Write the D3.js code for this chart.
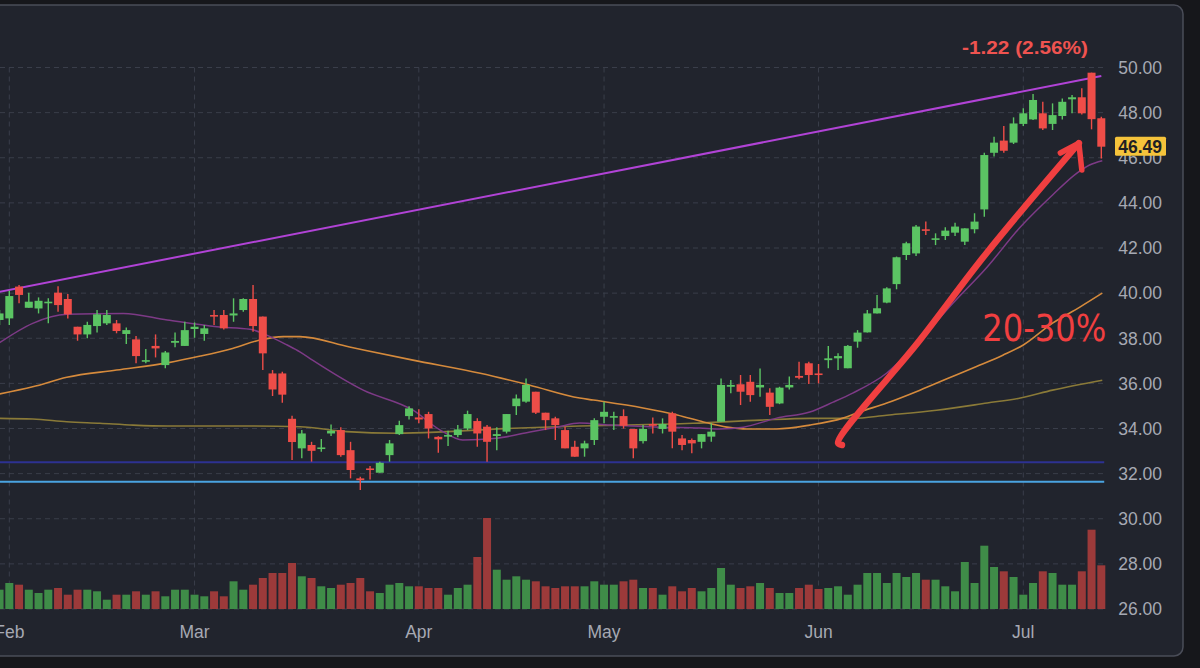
<!DOCTYPE html>
<html><head><meta charset="utf-8">
<script src="https://cdn.jsdelivr.net/npm/d3@7"></script>
<style>html,body{margin:0;padding:0;background:#16171b;}svg{display:block}</style>
</head><body>
<svg id="c" width="1200" height="668"></svg>
<script>
// ---- data (index 0 = last days of Jan, index 113 = Jul 14) ----
const opens  = [38.81,38.88,40.29,39.35,39.32,39.55,40.02,39.74,38.51,38.17,38.54,38.66,38.66,38.19,37.95,36.96,37.66,36.81,37.80,37.66,
  38.41,38.19,39.03,39.03,39.01,39.25,39.74,38.96,36.44,36.44,34.43,33.12,33.27,33.12,33.78,33.93,33.04,31.79,32.23,32.04,
  32.82,33.75,34.55,34.49,34.64,33.63,33.64,33.71,34.00,34.33,34.08,33.67,33.86,34.99,35.19,35.63,34.70,34.45,33.93,33.19,
  33.12,33.49,34.52,34.49,34.55,33.98,33.44,34.20,33.98,34.67,33.56,33.49,33.41,33.64,34.30,35.85,35.96,36.07,35.82,35.59,
  35.11,35.82,36.33,36.89,36.44,37.03,37.11,36.67,37.85,38.26,39.10,39.58,40.40,41.69,41.76,42.83,42.38,42.53,42.68,42.28,
  42.83,43.71,46.22,46.76,46.67,47.50,47.70,47.97,47.50,47.85,48.59,48.68,49.77,47.75];
const highs  = [39.25,40.11,40.36,40.02,39.81,39.77,40.31,39.96,38.51,38.73,39.25,39.25,38.81,38.48,38.10,37.52,38.17,37.43,38.25,38.73,
  38.70,38.59,39.25,39.25,39.77,39.77,40.36,38.96,36.59,36.52,34.57,33.93,33.41,33.53,34.18,34.05,33.41,31.86,32.34,32.53,
  33.49,34.34,34.99,34.85,34.74,33.66,33.90,34.15,34.79,34.45,34.15,34.05,34.64,35.51,36.22,35.63,34.70,34.52,34.08,33.46,
  33.46,34.45,35.19,34.74,34.85,33.98,34.15,34.49,34.45,34.74,33.71,33.56,33.75,34.23,36.22,36.15,36.37,36.37,36.66,35.78,
  35.85,36.30,36.96,36.96,36.86,37.66,37.33,37.70,38.36,39.25,39.92,40.26,41.62,42.28,43.02,43.17,42.65,42.92,43.12,42.87,
  43.54,46.22,46.93,47.41,47.79,48.19,48.82,48.48,48.41,48.63,48.78,49.08,49.77,47.82];
const lows   = [38.59,38.59,39.55,39.35,39.10,38.66,39.18,38.88,37.89,38.00,38.25,38.59,38.22,37.74,36.89,36.89,37.15,36.67,37.60,37.66,
  38.02,37.89,38.59,38.39,38.73,39.18,38.29,36.59,35.44,35.14,32.60,32.68,32.53,32.97,33.67,32.75,31.79,31.27,31.74,32.04,
  32.53,33.71,34.40,34.23,33.56,32.93,33.22,33.61,33.93,33.19,32.53,33.04,33.78,34.60,35.14,34.64,33.93,33.49,33.12,32.75,
  32.75,33.27,34.23,33.93,34.00,32.68,33.34,33.78,33.78,33.12,33.04,32.90,33.12,33.41,34.30,35.56,35.04,35.19,35.41,34.60,
  35.08,35.73,36.18,35.97,36.00,36.67,36.59,36.67,37.58,38.26,39.10,39.55,40.17,41.47,41.64,42.58,42.13,42.35,42.53,42.13,
  42.65,43.39,46.05,46.22,46.61,47.41,47.67,47.23,47.23,47.70,47.97,47.92,47.26,45.97];
const closes = [39.10,39.87,39.92,39.62,39.66,39.62,39.47,39.06,38.17,38.59,39.06,39.03,38.32,38.36,37.21,37.03,37.55,37.37,37.88,38.36,
  38.51,38.44,38.96,38.44,39.10,39.74,38.54,37.33,35.73,35.50,33.40,33.78,33.01,33.16,33.90,32.82,32.16,31.71,32.16,32.48,
  33.34,34.15,34.89,34.40,34.00,33.52,33.71,33.96,34.64,33.78,33.41,33.75,34.64,35.33,35.93,34.70,34.37,34.15,33.12,32.75,
  33.34,34.37,34.74,34.55,34.12,33.12,33.98,34.12,34.20,33.86,33.27,33.34,33.75,33.86,35.93,35.93,35.63,35.48,35.93,34.96,
  35.81,35.93,36.25,36.37,36.37,37.11,37.21,37.66,38.25,39.10,39.33,40.21,41.59,42.21,42.95,42.77,42.43,42.77,42.95,42.87,
  43.17,46.12,46.67,46.31,47.52,47.97,48.56,47.30,47.89,48.48,48.68,47.97,47.71,46.49];
// volume in millions (approx.)
const volumes = [1.93,2.60,2.43,1.93,1.60,1.93,2.10,1.43,1.93,1.93,1.77,0.93,1.43,1.43,1.77,1.43,1.77,1.27,1.93,1.93,
  1.43,1.27,1.77,1.27,2.77,1.93,2.43,3.10,3.60,3.60,4.60,3.27,3.10,2.27,2.10,2.43,2.60,3.10,1.77,1.60,
  2.43,2.60,2.27,2.27,2.10,2.10,1.43,2.10,2.43,5.20,9.10,3.93,2.93,3.27,2.93,2.77,2.27,2.10,2.27,2.27,
  2.27,2.77,2.43,2.43,2.77,2.93,2.10,2.10,1.43,2.27,1.77,2.10,1.77,2.10,4.10,2.43,2.10,2.27,2.60,2.10,
  1.60,1.60,2.10,2.43,2.00,2.10,2.27,1.43,2.43,3.60,3.60,2.60,3.60,3.20,3.60,2.93,2.93,2.27,1.77,4.70,
  2.60,6.33,4.20,3.77,3.20,1.43,2.60,3.77,3.60,2.43,2.43,3.77,7.93,4.37];
const monthLabels = ["Feb","Mar","Apr","May","Jun","Jul"];
const monthIndex  = [1,20,43,62,84,105];
const priceTicks  = [26,28,30,32,34,36,38,40,42,44,46,48,50];
// moving averages: [index, value]
const maShort = [[0,37.80],[3.4,38.66],[6.9,39.06],[12.7,39.10],[17.2,38.81],[22.3,38.51],[25.7,38.40],[27.4,38.14],[29.5,37.70],
  [30.8,37.40],[32.1,37.03],[37.3,35.70],[42.4,34.81],[45.2,33.93],[47.5,33.49],[51,33.57],[54.4,33.84],[57.2,34.06],[59.5,34.24],
  [62.6,34.15],[67.7,34.06],[71.8,34.02],[73.9,33.98],[76.3,34.06],[79.7,34.46],[83.1,34.73],[85.5,35.17],[87.5,35.57],[91,36.46],
  [94.4,37.92],[97.8,39.56],[101.3,41.16],[104.7,42.93],[108,44.35],[110.5,45.32],[111.8,45.68],[113.1,45.87]];
const maMid = [[0,35.53],[3.4,35.85],[6.9,36.27],[12,36.59],[17.2,36.91],[20.6,37.21],[23.9,37.55],[26.7,37.92],[29.1,38.07],
  [30.8,38.07],[35.9,37.61],[42.4,37.03],[49.3,36.45],[54.4,35.92],[59.5,35.35],[60.9,35.26],[66,34.91],[69.5,34.60],[72.2,34.29],
  [74.6,34.06],[76.7,33.98],[79.7,33.98],[83.1,34.15],[86.5,34.46],[88.2,34.73],[91,35.13],[94.4,35.70],[97.8,36.32],[100.2,36.75],
  [102.9,37.25],[105,37.70],[108,38.67],[110.8,39.38],[113.1,40.00]];
const maLong = [[0,34.45],[3.4,34.42],[6.9,34.30],[10.3,34.23],[13.7,34.15],[17.2,34.11],[25.7,34.11],[30.8,34.08],[35.6,33.86],
  [40.8,33.79],[45.9,33.86],[52.7,34.01],[59.5,34.11],[64.4,34.15],[71.1,34.23],[78,34.37],[83.1,34.45],[87.5,34.45],[91,34.59],
  [96.1,34.81],[101.3,35.13],[104.7,35.35],[108,35.70],[113.1,36.14]];
const trendLine = [[0,40.06],[113,49.62]];
const levelLines = [32.50, 31.64];
const arrowShaft = [[86.4,33.27],[86.0,33.36],[94.4,37.92],[101.2,41.76],[110.7,46.65]];
const arrowHead  = [[108.8,46.21],[110.7,46.65],[111.0,45.46]];
const lastPrice = 46.49;
const changeText = "-1.22 (2.56%)";
const noteText = "20-30%";

// ---- layout ----
const svg = d3.select("#c");
const W = 1200, H = 668;
const plotRight = 1104;
const x = d3.scaleLinear().domain([0, 113]).range([-0.45, 1101.3]);
const y = d3.scaleLinear().domain([26, 50]).range([609, 67.5]);
const yv = d3.scaleLinear().domain([0, 10]).range([609, 509]);
const GREEN = "#5bc463", RED = "#ee4d48";
const VGREEN = "#3f8c48", VRED = "#9c3a3a";
const FONT = "'Liberation Sans', Arial, sans-serif";

svg.append("rect").attr("width", W).attr("height", H).attr("fill", "#16171b");
svg.append("rect").attr("x", -20).attr("y", 5).attr("width", 1203).attr("height", 651)
  .attr("rx", 9).attr("fill", "#21242d").attr("stroke", "#4a4d58").attr("stroke-width", 1.5);

// gridlines
const grid = svg.append("g").attr("stroke", "#3a3e4a").attr("stroke-width", 1).attr("stroke-dasharray", "5,4");
grid.selectAll("line.h").data(priceTicks).join("line")
  .attr("x1", 0).attr("x2", plotRight).attr("y1", d => y(d)).attr("y2", d => y(d));
grid.selectAll("line.v").data(monthIndex).join("line").attr("class", "v")
  .attr("x1", d => x(d)).attr("x2", d => x(d)).attr("y1", y(50)).attr("y2", y(26));

// volume bars
const idx = d3.range(opens.length);
svg.append("g").selectAll("rect").data(idx).join("rect")
  .attr("x", i => x(i) - 4).attr("width", 8)
  .attr("y", i => yv(volumes[i])).attr("height", i => yv(0) - yv(volumes[i]))
  .attr("fill", i => closes[i] >= opens[i] ? VGREEN : VRED);

// horizontal level lines
const lvlColors = ["#2d3192", "#4aa3e0"];
svg.append("g").selectAll("line").data(levelLines).join("line")
  .attr("x1", x(-1)).attr("x2", x(113.3)).attr("y1", d => y(d)).attr("y2", d => y(d))
  .attr("stroke", (d, i) => lvlColors[i]).attr("stroke-width", 2);

// moving averages
const line = d3.line().x(d => x(d[0])).y(d => y(d[1])).curve(d3.curveMonotoneX);
svg.append("path").datum(maLong).attr("d", line).attr("fill", "none").attr("stroke", "#8a7a38").attr("stroke-width", 1.6);
svg.append("path").datum(maMid).attr("d", line).attr("fill", "none").attr("stroke", "#d58a3c").attr("stroke-width", 1.6);
svg.append("path").datum(maShort).attr("d", line).attr("fill", "none").attr("stroke", "#7d3a86").attr("stroke-width", 1.5);
// trendline
svg.append("path").datum(trendLine).attr("d", d3.line().x(d => x(d[0])).y(d => y(d[1])))
  .attr("fill", "none").attr("stroke", "#b143d6").attr("stroke-width", 2);

// candles
const cg = svg.append("g");
const candle = cg.selectAll("g").data(idx).join("g");
candle.append("line")
  .attr("x1", i => x(i)).attr("x2", i => x(i)).attr("y1", i => y(highs[i])).attr("y2", i => y(lows[i]))
  .attr("stroke", i => closes[i] >= opens[i] ? GREEN : RED).attr("stroke-width", 1.4);
candle.append("rect")
  .attr("x", i => x(i) - 4).attr("width", 8)
  .attr("y", i => y(Math.max(opens[i], closes[i])))
  .attr("height", i => Math.max(1.6, Math.abs(y(opens[i]) - y(closes[i]))))
  .attr("fill", i => closes[i] >= opens[i] ? GREEN : RED);

// hand-drawn annotation
const ARROW = "#f03f40";
svg.append("path").datum(arrowShaft).attr("d", d3.line().x(d => x(d[0])).y(d => y(d[1])).curve(d3.curveCatmullRom))
  .attr("fill", "none").attr("stroke", ARROW).attr("stroke-width", 6.5).attr("stroke-linecap", "round").attr("stroke-linejoin", "round");
svg.append("path").datum(arrowHead).attr("d", d3.line().x(d => x(d[0])).y(d => y(d[1])))
  .attr("fill", "none").attr("stroke", ARROW).attr("stroke-width", 5.5).attr("stroke-linecap", "round").attr("stroke-linejoin", "round");
svg.append("text").attr("x", x(100.8)).attr("y", y(37.88))
  .attr("font-family", "'DejaVu Sans', sans-serif").attr("font-size", 38).attr("fill", ARROW)
  .attr("textLength", 124).attr("lengthAdjust", "spacingAndGlyphs").text(noteText);

// price axis labels
svg.append("g").selectAll("text").data(priceTicks).join("text")
  .attr("x", 1162).attr("y", d => y(d)).attr("dy", "0.36em").attr("text-anchor", "end")
  .attr("font-family", FONT).attr("font-size", 17.5).attr("fill", "#a6a9b3")
  .text(d => d.toFixed(2));

// month labels
svg.append("g").selectAll("text").data(monthLabels).join("text")
  .attr("x", (d, i) => x(monthIndex[i])).attr("y", 638).attr("text-anchor", "middle")
  .attr("font-family", FONT).attr("font-size", 17.5).attr("fill", "#a6a9b3").text(d => d);

// change text
svg.append("text").attr("x", 1088).attr("y", 54).attr("text-anchor", "end")
  .attr("font-family", FONT).attr("font-size", 18).attr("font-weight", "bold").attr("fill", "#ef5350")
  .attr("textLength", 126).attr("lengthAdjust", "spacingAndGlyphs").text(changeText);

// last price tag
const ly = y(lastPrice);
svg.append("rect").attr("x", 1115).attr("y", ly - 10).attr("width", 51).attr("height", 19).attr("rx", 1.5).attr("fill", "#f5c33b");
svg.append("text").attr("x", 1162).attr("y", ly).attr("dy", "0.36em").attr("text-anchor", "end")
  .attr("font-family", FONT).attr("font-size", 17.5).attr("font-weight", "bold").attr("fill", "#1e1f24")
  .text(lastPrice.toFixed(2));
</script>
</body></html>
